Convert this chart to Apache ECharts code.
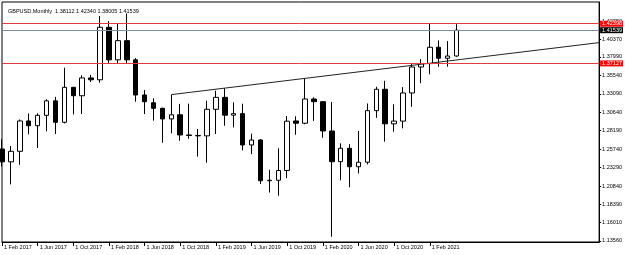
<!DOCTYPE html>
<html>
<head>
<meta charset="utf-8">
<script src="https://cdn.jsdelivr.net/npm/echarts@6/dist/echarts.min.js"></script>
<style>
html,body{margin:0;padding:0;background:#fff;}
#chart{width:625px;height:255px;}
</style>
</head>
<body>
<div id="chart"></div>
<script>
// Monthly GBPUSD candles (Feb 2017 .. May 2021)
var months = [
 '1 Feb 2017','1 Mar 2017','1 Apr 2017','1 May 2017','1 Jun 2017','1 Jul 2017','1 Aug 2017','1 Sep 2017','1 Oct 2017','1 Nov 2017','1 Dec 2017',
 '1 Jan 2018','1 Feb 2018','1 Mar 2018','1 Apr 2018','1 May 2018','1 Jun 2018','1 Jul 2018','1 Aug 2018','1 Sep 2018','1 Oct 2018','1 Nov 2018','1 Dec 2018',
 '1 Jan 2019','1 Feb 2019','1 Mar 2019','1 Apr 2019','1 May 2019','1 Jun 2019','1 Jul 2019','1 Aug 2019','1 Sep 2019','1 Oct 2019','1 Nov 2019','1 Dec 2019',
 '1 Jan 2020','1 Feb 2020','1 Mar 2020','1 Apr 2020','1 May 2020','1 Jun 2020','1 Jul 2020','1 Aug 2020','1 Sep 2020','1 Oct 2020','1 Nov 2020','1 Dec 2020',
 '1 Jan 2021','1 Feb 2021','1 Mar 2021','1 Apr 2021','1 May 2021'
];
var opens = [
 1.2575,1.2405,1.2545,1.2948,1.2885,1.3023,1.3215,1.2930,1.3395,1.3283,1.3520,
 1.3495,1.4192,1.3760,1.4015,1.3760,1.3293,1.3190,1.3116,1.2975,1.3030,1.2762,1.2755,
 1.2750,1.3103,1.3262,1.3025,1.3045,1.2629,1.2695,1.2154,1.2160,1.2290,1.2948,1.2918,
 1.3240,1.3204,1.2815,1.2407,1.2585,1.2340,1.2400,1.3085,1.3369,1.2910,1.2946,1.3320,
 1.3665,1.3710,1.3927,1.3781,1.38112
];
var closes = [
 1.2405,1.2545,1.2948,1.2885,1.3023,1.3215,1.2930,1.3395,1.3283,1.3520,1.3495,
 1.4192,1.3760,1.4015,1.3760,1.3293,1.3204,1.3116,1.2975,1.3030,1.2762,1.2755,1.2750,
 1.3103,1.3262,1.3025,1.3045,1.2629,1.2695,1.2154,1.2160,1.2290,1.2945,1.2918,1.3240,
 1.3204,1.2815,1.2407,1.2585,1.2340,1.2400,1.3085,1.3369,1.2910,1.2946,1.3320,1.3665,
 1.3710,1.3927,1.3781,1.3811,1.41539
];
var lows = [
 1.2345,1.2105,1.2365,1.2770,1.2588,1.2810,1.2775,1.2915,1.3035,1.3040,1.3465,
 1.3456,1.3712,1.3712,1.3711,1.3204,1.3040,1.2952,1.2659,1.2784,1.2685,1.2710,1.2475,
 1.2394,1.2775,1.2885,1.2862,1.2558,1.2506,1.2110,1.1997,1.1955,1.2190,1.2765,1.2904,
 1.2950,1.2725,1.1410,1.2160,1.2068,1.2250,1.2370,1.2990,1.2673,1.2805,1.2850,1.3135,
 1.3450,1.3568,1.3669,1.3669,1.38005
];
var highs = [
 1.2706,1.2615,1.2968,1.3048,1.3050,1.3236,1.3268,1.3656,1.3400,1.3555,1.3560,
 1.4343,1.4275,1.4245,1.4377,1.3784,1.3360,1.3249,1.3125,1.3298,1.3175,1.3178,1.2841,
 1.3217,1.3350,1.3382,1.3196,1.3177,1.2780,1.2708,1.2300,1.2585,1.3013,1.3010,1.3514,
 1.3262,1.3204,1.3200,1.2651,1.2640,1.2815,1.3180,1.3403,1.3482,1.3170,1.3398,1.3720,
 1.3770,1.4241,1.4018,1.4010,1.42340
];
// right price scale labels
var priceTicks = [1.42750,1.40370,1.37990,1.35540,1.33090,1.30640,1.28190,1.25740,1.23290,1.20840,1.18390,1.16010,1.13560];
// horizontal levels
var redLevels = [1.42398, 1.37127];
var bidLevel = 1.41539;
// trend line: [category index, price]
var trendIdx = [19, 67];
var trendVal = [1.3298, 1.3989];
var symbolName = 'GBPUSD,Monthly';

var LAST_SLOT = 67;
var Y_MIN = 1.13399, Y_MAX = 1.45286;
var candleData = opens.map(function(o,i){ return [o, closes[i], lows[i], highs[i]]; });
var last = opens.length - 1;
var titleText = symbolName + '  ' + opens[last].toFixed(5) + ' ' + highs[last].toFixed(5) + ' ' + lows[last].toFixed(5) + ' ' + closes[last].toFixed(5);
var FONT = 'Liberation Sans';
var FS = 5.5;

function lvl(v, color, bg){
  return {
    yAxis: v,
    lineStyle: {color: color, width: 1, type: 'solid', opacity: 1},
    label: {
      show: true, position: 'end', distance: 1,
      formatter: v.toFixed(5),
      color: '#fff', backgroundColor: bg, padding: [0,1,0,2], lineHeight: 6,
      fontSize: FS, fontFamily: FONT
    }
  };
}
function levelSeries(items){
  return {
    type: 'line', silent: true, symbol: 'none', data: [], z: 6,
    labelLayout: {hideOverlap: false},
    markLine: {
      silent: true, symbol: ['none','none'], animation: false, precision: 5,
      emphasis: {disabled: true},
      data: items
    }
  };
}

var chart = echarts.init(document.getElementById('chart'), null, {renderer:'canvas'});
chart.setOption({
  animation: false,
  backgroundColor: '#fff',
  title: {
    text: titleText, left: 3, top: 3,
    textStyle: {fontSize: FS, fontWeight: 'normal', color: '#000', fontFamily: FONT}
  },
  grid: {left: 2, right: 24, top: 2, bottom: 13, show: true, borderColor: '#000', borderWidth: 1, backgroundColor: 'transparent'},
  xAxis: {
    type: 'category', data: months, boundaryGap: false, max: LAST_SLOT,
    axisLine: {show: true, lineStyle: {color: '#000', width: 1}},
    axisTick: {show: true, length: 4, lineStyle: {color: '#000'},
      interval: function(i){ return i % 4 === 0 && i < months.length - 2; }},
    axisLabel: {
      show: true, align: 'left', margin: 2, padding: [0,0,0,2],
      fontSize: FS, fontFamily: FONT, color: '#000',
      interval: function(i){ return i % 4 === 0 && i < months.length - 2; },
      formatter: function(v, i){ return (i < months.length) ? v : ''; }
    },
    splitLine: {show: false}
  },
  yAxis: {
    type: 'value', position: 'right', scale: true,
    min: Y_MIN, max: Y_MAX,
    axisLine: {show: true, lineStyle: {color: '#000', width: 1}},
    axisTick: {show: true, length: 2, inside: false, lineStyle: {color: '#000'}, customValues: priceTicks},
    axisLabel: {
      show: true, margin: 3, fontSize: FS, fontFamily: FONT, color: '#000',
      customValues: priceTicks,
      formatter: function(v){ return v.toFixed(5); }
    },
    splitLine: {show: false}
  },
  series: [
    {
      type: 'candlestick', name: 'GBPUSD', data: candleData, barWidth: 5, clip: false,
      itemStyle: {color: '#fff', color0: '#000', borderColor: '#000', borderColor0: '#000', borderWidth: 1}
    },
    {
      type: 'line', name: 'trend', symbol: 'none', silent: true,
      data: [[trendIdx[0], trendVal[0]], [trendIdx[1], trendVal[1]]],
      lineStyle: {color: '#222', width: 1}, z: 3
    },
    levelSeries([lvl(bidLevel, '#7a8fa3', '#000000')]),
    levelSeries([lvl(redLevels[0], '#e23b3b', '#ff0000'), lvl(redLevels[1], '#e23b3b', '#ff0000')])
  ]
});
</script>
</body>
</html>
